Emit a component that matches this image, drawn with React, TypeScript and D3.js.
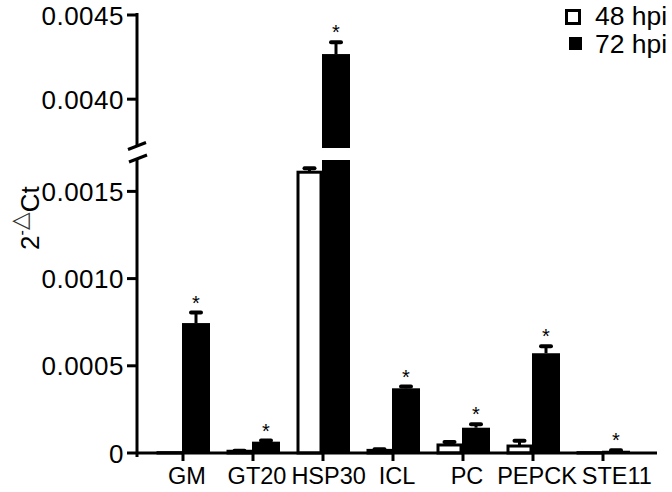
import React from "react";
import * as d3 from "d3";

const categories = ["GM", "GT20", "HSP30", "ICL", "PC", "PEPCK", "STE11"];
const hpi48 = [0.000002, 0.00001, 0.00161, 0.000015, 0.000046, 0.00004, 0.000002];
const hpi48Err = [0, 0.000003, 0.000023, 0.000006, 0.000017, 0.00003, 0];
const hpi72 = [0.000745, 0.000065, 0.004268, 0.000371, 0.000145, 0.000572, 0.000013];
const hpi72Err = [0.00006, 0.000006, 0.00007, 0.00001, 0.00002, 0.00004, 0.000003];
const significant72 = [true, true, true, true, true, true, true];
const lowTicks = [0, 0.0005, 0.001, 0.0015];
const lowTickLabels = ["0", "0.0005", "0.0010", "0.0015"];
const highTicks = [0.004, 0.0045];
const highTickLabels = ["0.0040", "0.0045"];
const seriesNames = ["48 hpi", "72 hpi"];

const W = 672;
const H = 492;
const FONT = "'Liberation Sans', Arial, Helvetica, sans-serif";
const XFS = 23.5;

function measure(text: string, size: number): number {
  try {
    const ctx = document.createElement("canvas").getContext("2d")!;
    ctx.font = `${size}px 'Liberation Sans', Arial, sans-serif`;
    return ctx.measureText(text).width;
  } catch (e) {
    return text.length * size * 0.62;
  }
}

export default function App() {
  const axisX = 137;
  const lowMax = 0.00168;
  const highMin = 0.00371;
  const yLow = d3.scaleLinear().domain([0, lowMax]).range([453, 160]);
  const yHigh = d3.scaleLinear().domain([highMin, 0.0045]).range([148, 15]);
  const y = (v: number) => (v <= lowMax ? yLow(v) : yHigh(v));
  const x = d3.scalePoint<string>().domain(categories).range([183, 603]);
  const bw = 27;
  const y0 = yLow(0);

  // place x labels: centred slightly right of ticks, pushed right to avoid overlaps
  const labelX: number[] = [];
  let prevEnd = -Infinity;
  categories.forEach((c) => {
    const w = measure(c, XFS);
    let start = x(c)! + 4 - w / 2;
    if (start < prevEnd + 5) start = prevEnd + 5;
    labelX.push(start);
    prevEnd = start + w;
  });

  const barRects = (v: number, x0: number, w: number, fill: string, key: string, stroke?: string) => {
    const common: any = { fill, stroke: stroke || "none", strokeWidth: stroke ? 3 : 0 };
    if (v <= lowMax) {
      return [<rect key={key} x={x0} y={y(v)} width={w} height={Math.max(0, y0 - y(v))} {...common} />];
    }
    return [
      <rect key={key + "a"} x={x0} y={yLow(lowMax)} width={w} height={y0 - yLow(lowMax)} {...common} />,
      <rect key={key + "b"} x={x0} y={yHigh(v)} width={w} height={yHigh(highMin) - yHigh(v)} {...common} />,
    ];
  };

  const errBar = (v: number, e: number, cx: number, key: string) => {
    if (!e) return null;
    const top = y(v + e);
    return (
      <g key={key}>
        <line x1={cx} x2={cx} y1={y(v)} y2={top} stroke="#000" strokeWidth={3} />
        <line x1={cx - 5} x2={cx + 5} y1={top} y2={top} stroke="#000" strokeWidth={4} strokeLinecap="round" />
      </g>
    );
  };

  return (
    <svg width={W} height={H} style={{ position: "absolute", left: 0, top: 0, background: "#fff" }} fontFamily={FONT}>
      <rect x={0} y={0} width={W} height={H} fill="#fff" />
      {/* bars */}
      {categories.map((c, i) => {
        const cx = x(c)!;
        const wx = cx - bw + 0.5;
        const bx = cx - 1;
        const top72 = y(hpi72[i] + hpi72Err[i]);
        return (
          <g key={c}>
            {barRects(hpi48[i], wx + 1.5, bw - 4, "#fff", "w" + i, "#000")}
            {errBar(hpi48[i], hpi48Err[i], wx + bw / 2 - 0.5, "we" + i)}
            {barRects(hpi72[i], bx, bw + 1, "#000", "b" + i)}
            {errBar(hpi72[i], hpi72Err[i], bx + (bw + 1) / 2, "be" + i)}
            {significant72[i] && (
              <text x={bx + (bw + 1) / 2} y={top72 - 3} textAnchor="middle" fontSize={20} fill="#000">
                *
              </text>
            )}
          </g>
        );
      })}
      {/* y axis */}
      <line x1={axisX} x2={axisX} y1={13} y2={146} stroke="#000" strokeWidth={3} />
      <line x1={axisX} x2={axisX} y1={158} y2={457} stroke="#000" strokeWidth={3} />
      <line x1={axisX - 9} x2={axisX + 9} y1={149.5} y2={142.5} stroke="#000" strokeWidth={3} />
      <line x1={axisX - 8} x2={axisX + 10} y1={162} y2={155} stroke="#000" strokeWidth={3} />
      {lowTicks.map((t, i) => (
        <g key={"lt" + i}>
          <line x1={axisX - 10} x2={axisX} y1={yLow(t)} y2={yLow(t)} stroke="#000" strokeWidth={3} />
          <text x={axisX - 13} y={yLow(t) + 9.5} textAnchor="end" fontSize={26} letterSpacing={0.5} fill="#000">
            {lowTickLabels[i]}
          </text>
        </g>
      ))}
      {highTicks.map((t, i) => (
        <g key={"ht" + i}>
          <line x1={axisX - 10} x2={axisX} y1={yHigh(t)} y2={yHigh(t)} stroke="#000" strokeWidth={3} />
          <text x={axisX - 13} y={yHigh(t) + 9.5} textAnchor="end" fontSize={26} letterSpacing={0.5} fill="#000">
            {highTickLabels[i]}
          </text>
        </g>
      ))}
      {/* x axis */}
      <line x1={axisX} x2={657} y1={y0} y2={y0} stroke="#000" strokeWidth={3} />
      {categories.map((c, i) => (
        <g key={"xt" + c}>
          <line x1={x(c)!} x2={x(c)!} y1={y0} y2={y0 + 8} stroke="#000" strokeWidth={3} />
          <text x={labelX[i]} y={484} textAnchor="start" fontSize={XFS} fill="#000">
            {c}
          </text>
        </g>
      ))}
      {/* y label */}
      <text transform="translate(39,250) rotate(-90)" fontSize={26} fill="#000">
        2
        <tspan dy={-12} fontSize={16}>-</tspan>
        <tspan fontSize={23} fontFamily="'DejaVu Sans', sans-serif" fontWeight={200} fill="#333">△</tspan>
        <tspan dy={12}>Ct</tspan>
      </text>
      {/* legend */}
      <rect x={566.5} y={10.5} width={13} height={13} fill="#fff" stroke="#000" strokeWidth={3} />
      <text x={595} y={25} fontSize={26.5} fill="#000">{seriesNames[0]}</text>
      <rect x={569} y={37} width={13} height={13} fill="#000" />
      <text x={595} y={53} fontSize={26.5} fill="#000">{seriesNames[1]}</text>
    </svg>
  );
}
